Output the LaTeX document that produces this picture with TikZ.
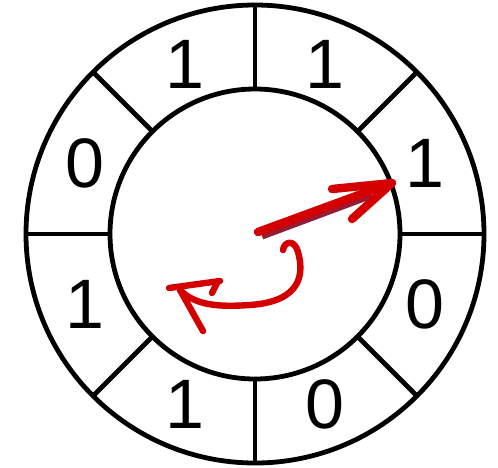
\documentclass[tikz,border=0pt]{standalone}
\usepackage{fontspec}
\setmainfont{Liberation Sans}
\usetikzlibrary{calc}
\definecolor{pen}{RGB}{212,0,0}
\definecolor{penshade}{RGB}{150,28,52}
\begin{document}
\begin{tikzpicture}[x=0.5pt,y=-0.5pt,
  ring/.style={circle,draw=black,line width=2.4pt,inner sep=0pt,outer sep=0pt},
  divider/.style={line width=2.4pt},
  bit/.style={font=\fontsize{35}{40}\selectfont,inner sep=0pt},
  redpen/.style={draw=pen,line width=4.2pt,line cap=round,line join=round},
  redthin/.style={draw=pen,line width=3.2pt,line cap=round,line join=round}]
\useasboundingbox (0,0) rectangle (498,467);
\coordinate (c) at (255,234);
\node[ring,minimum size=229pt] (outer) at (c) {};
\node[ring,minimum size=145pt] (inner) at (c) {};
\foreach \a in {0,45,...,315}{\draw[divider] (inner.\a) -- (outer.\a);}
\node[bit] (b1) at ($(c)+(22.5:92pt)$) {1};
\node[bit] (b2) at ($(c)+(67.5:92pt)$) {1};
\node[bit] (b3) at ($(c)+(112.5:92pt)$) {1};
\node[bit] (b4) at ($(c)+(157.5:92pt)$) {0};
\node[bit] (b5) at ($(c)+(202.5:92pt)$) {1};
\node[bit] (b6) at ($(c)+(247.5:92pt)$) {1};
\node[bit] (b7) at ($(c)+(292.5:92pt)$) {0};
\node[bit] (b8) at ($(c)+(337.5:92pt)$) {0};
% pointer arrow
\coordinate (ps) at (258,232);
\coordinate (pt) at (392,183);
\coordinate (pb1) at (332,189);
\coordinate (pb2) at (352,219);
\draw[draw=penshade,line width=3.5pt,line cap=butt] (262,236) -- (372,195);
\draw[redpen] (ps) -- (386,185);
\draw[redpen] (pb1) -- (pt) -- (pb2);
% curly arrow
\coordinate (cs) at (283,250);
\coordinate (ct) at (180,290);
\draw[redthin] (cs) .. controls (284,242) and (294,238) .. (298,252)
  .. controls (306,280) and (295,302) .. (250,305)
  .. controls (220,307) and (196,306) .. (ct);
\draw[redthin] (169,288) -- (220,281);
\draw[redthin] (218,281) -- (212,293);
\draw[redthin] (ct) -- (203,331);
\end{tikzpicture}
\end{document}
